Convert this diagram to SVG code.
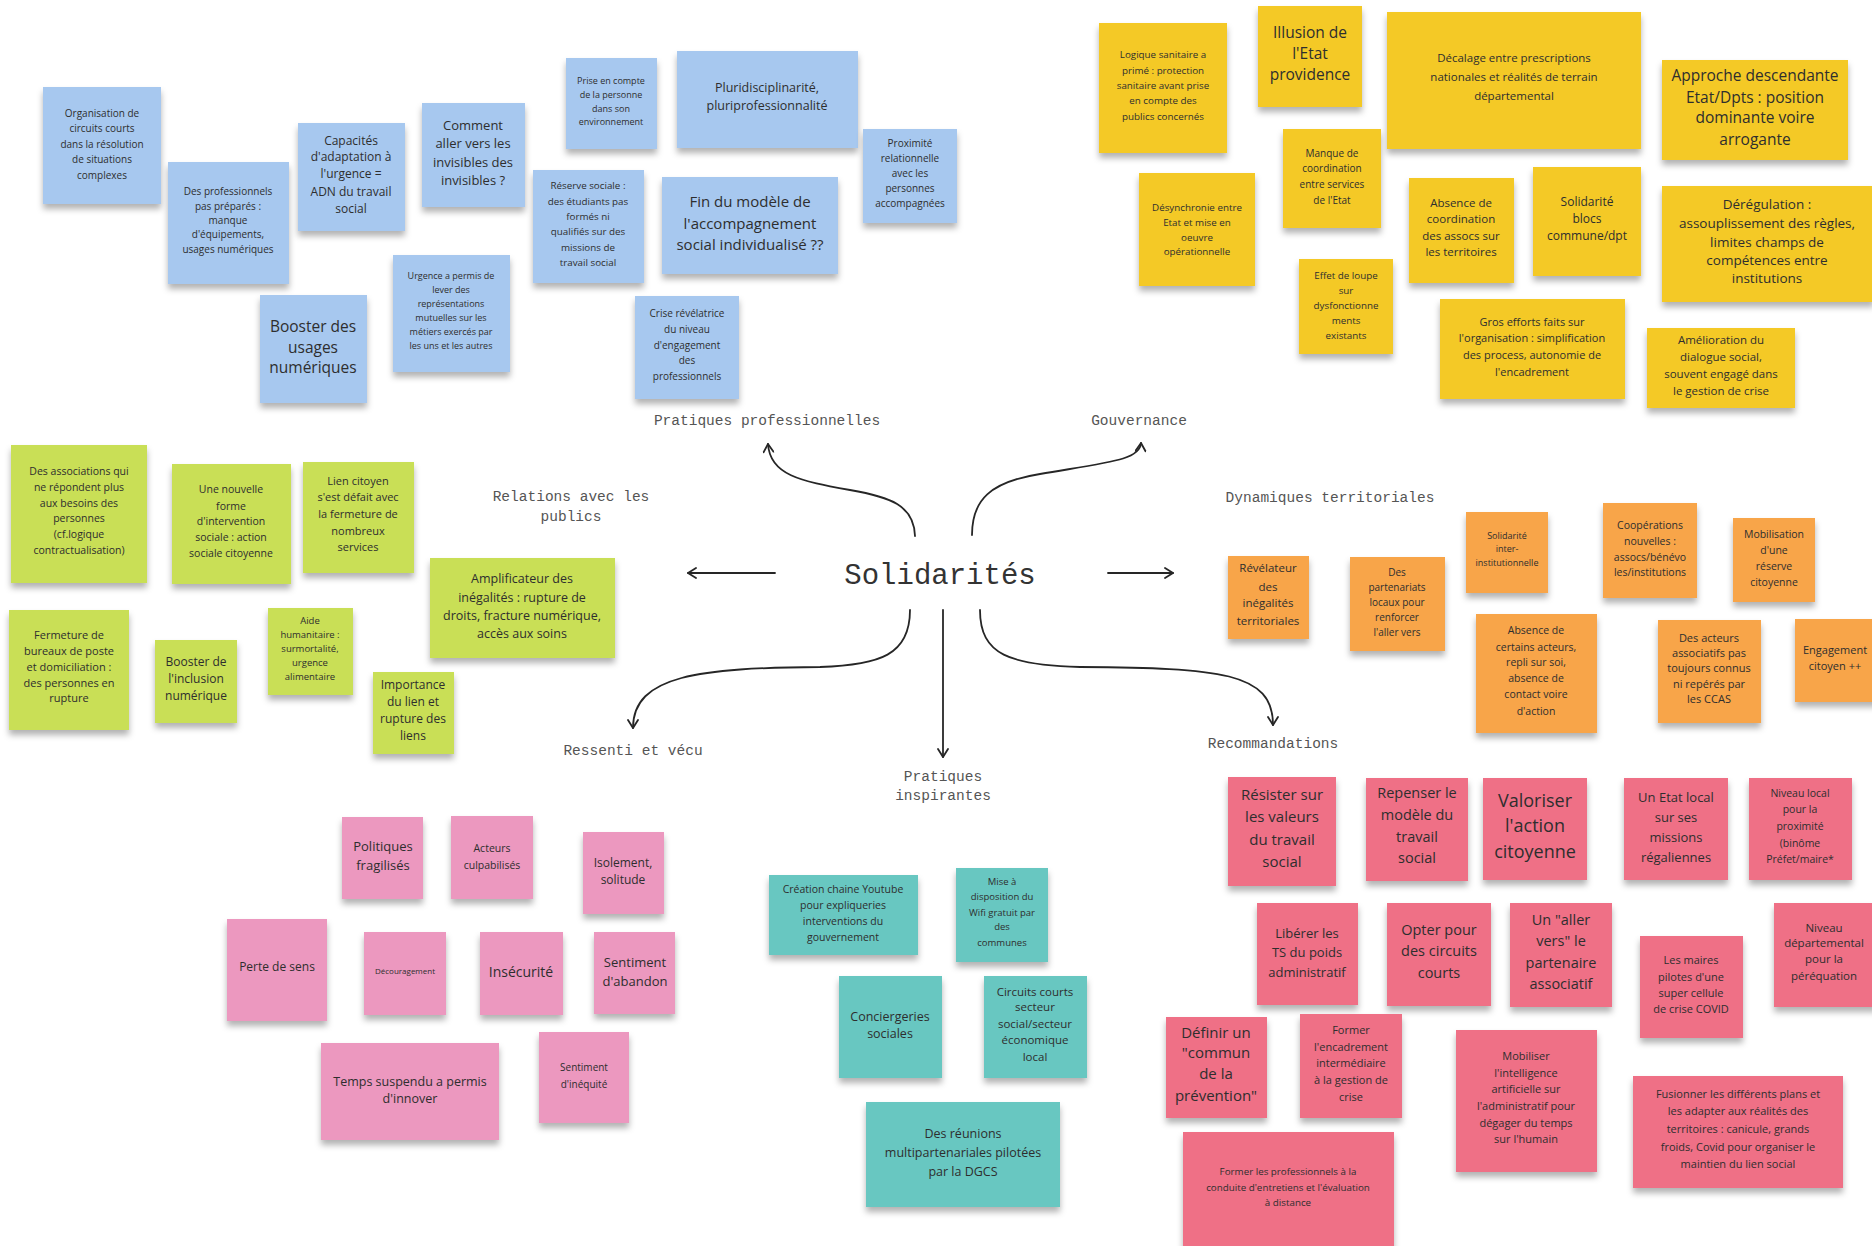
<svg xmlns="http://www.w3.org/2000/svg" width="1872" height="1246" viewBox="0 0 1872 1246">
<defs>
<style>
.n{filter:url(#sh)}
.b{fill:#a7c8ef}.y{fill:#f4c928}.g{fill:#c9df56}.o{fill:#f8a548}.p{fill:#ec98bf}.t{fill:#67c7c1}.r{fill:#ef7086}
text{font-family:"Open Sans","Noto Sans",sans-serif;fill:#2e2e2e;text-anchor:middle}
.lbl{font-family:"Liberation Mono","DejaVu Sans Mono",monospace;fill:#555;font-size:14.5px}
.title{font-family:"Liberation Mono","DejaVu Sans Mono",monospace;fill:#333;font-size:29px}
.c{fill:none;stroke:#262626;stroke-width:1.8;stroke-linecap:round}
</style>
<filter id="sh" x="-10%" y="-10%" width="120%" height="130%">
<feDropShadow dx="0" dy="5" stdDeviation="3" flood-color="#000" flood-opacity="0.3"/>
</filter>
<marker id="ah" viewBox="0 0 12 12" refX="10" refY="6" markerWidth="12" markerHeight="12" markerUnits="userSpaceOnUse" orient="auto">
<path d="M2,1 L10,6 L2,11" fill="none" stroke="#262626" stroke-width="1.8" stroke-linecap="round" stroke-linejoin="round"/>
</marker>
</defs>
<rect width="1872" height="1246" fill="#ffffff"/>

<g id="connectors">
<path class="c" marker-end="url(#ah)" d="M915,536 C914,505 890,497 850,490 C800,481 770,475 768,444"/>
<path class="c" marker-end="url(#ah)" d="M910,610 C910,655 880,665 820,667 C700,668 633,675 633,728"/>
<path class="c" marker-end="url(#ah)" d="M972,535 C972,500 990,482 1040,474 C1110,462 1140,460 1141,443"/>
<path class="c" marker-end="url(#ah)" d="M980,610 C980,655 1010,665 1080,667 C1220,668 1273,672 1273,725"/>
<path class="c" marker-end="url(#ah)" d="M775,573 L688,573"/>
<path class="c" marker-end="url(#ah)" d="M1108,573 L1173,573"/>
<path class="c" marker-end="url(#ah)" d="M943,610 L943,757"/>
</g>

<g id="center"><text class="title" x="940" y="584">Solidarités</text></g>
<g id="lbl-pratiques-pro"><text class="lbl" x="767" y="425">Pratiques professionnelles</text></g>
<g id="lbl-gouvernance"><text class="lbl" x="1139" y="425">Gouvernance</text></g>
<g id="lbl-relations"><text class="lbl" x="571" y="501"><tspan x="571" y="501">Relations avec les</tspan><tspan x="571" y="521">publics</tspan></text></g>
<g id="lbl-dynamiques"><text class="lbl" x="1330" y="502">Dynamiques territoriales</text></g>
<g id="lbl-ressenti"><text class="lbl" x="633" y="755">Ressenti et vécu</text></g>
<g id="lbl-inspirantes"><text class="lbl" x="943" y="781"><tspan x="943" y="781">Pratiques</tspan><tspan x="943" y="800">inspirantes</tspan></text></g>
<g id="lbl-recommandations"><text class="lbl" x="1273" y="748">Recommandations</text></g>

<!-- Blue: pratiques professionnelles -->
<g id="n-organisation"><rect class="n b" x="43" y="87" width="118" height="117"/><text font-size="10"><tspan x="102" y="117">Organisation de</tspan><tspan x="102" y="132">circuits courts</tspan><tspan x="102" y="148">dans la résolution</tspan><tspan x="102" y="163">de situations</tspan><tspan x="102" y="179">complexes</tspan></text></g>
<g id="n-profs"><rect class="n b" x="168" y="162" width="121" height="122"/><text font-size="10"><tspan x="228" y="195">Des professionnels</tspan><tspan x="228" y="210">pas préparés :</tspan><tspan x="228" y="224">manque</tspan><tspan x="228" y="238">d'équipements,</tspan><tspan x="228" y="253">usages numériques</tspan></text></g>
<g id="n-capacites"><rect class="n b" x="298" y="123" width="107" height="108"/><text font-size="12"><tspan x="351" y="145">Capacités</tspan><tspan x="351" y="161">d'adaptation à</tspan><tspan x="351" y="178">l'urgence =</tspan><tspan x="351" y="196">ADN du travail</tspan><tspan x="351" y="213">social</tspan></text></g>
<g id="n-comment"><rect class="n b" x="422" y="103" width="103" height="104"/><text font-size="13"><tspan x="473" y="130">Comment</tspan><tspan x="473" y="148">aller vers les</tspan><tspan x="473" y="167">invisibles des</tspan><tspan x="473" y="185">invisibles ?</tspan></text></g>
<g id="n-booster-usages"><rect class="n b" x="260" y="295" width="107" height="108"/><text font-size="15.5"><tspan x="313" y="332">Booster des</tspan><tspan x="313" y="353">usages</tspan><tspan x="313" y="373">numériques</tspan></text></g>
<g id="n-urgence"><rect class="n b" x="393" y="255" width="117" height="117"/><text font-size="9"><tspan x="451" y="279">Urgence a permis de</tspan><tspan x="451" y="293">lever des</tspan><tspan x="451" y="307">représentations</tspan><tspan x="451" y="321">mutuelles sur les</tspan><tspan x="451" y="335">métiers exercés par</tspan><tspan x="451" y="349">les uns et les autres</tspan></text></g>
<g id="n-prise"><rect class="n b" x="566" y="58" width="91" height="91"/><text font-size="9"><tspan x="611" y="84">Prise en compte</tspan><tspan x="611" y="98">de la personne</tspan><tspan x="611" y="112">dans son</tspan><tspan x="611" y="125">environnement</tspan></text></g>
<g id="n-pluri"><rect class="n b" x="677" y="51" width="181" height="97"/><text font-size="12.5"><tspan x="767" y="92">Pluridisciplinarité,</tspan><tspan x="767" y="110">pluriprofessionnalité</tspan></text></g>
<g id="n-reserve"><rect class="n b" x="533" y="170" width="111" height="113"/><text font-size="9.8"><tspan x="588" y="189">Réserve sociale :</tspan><tspan x="588" y="205">des étudiants pas</tspan><tspan x="588" y="220">formés ni</tspan><tspan x="588" y="235">qualifiés sur des</tspan><tspan x="588" y="251">missions de</tspan><tspan x="588" y="266">travail social</tspan></text></g>
<g id="n-fin"><rect class="n b" x="662" y="177" width="176" height="97"/><text font-size="15"><tspan x="750" y="207">Fin du modèle de</tspan><tspan x="750" y="229">l'accompagnement</tspan><tspan x="750" y="250">social individualisé ??</tspan></text></g>
<g id="n-proximite"><rect class="n b" x="863" y="129" width="94" height="94"/><text font-size="10"><tspan x="910" y="147">Proximité</tspan><tspan x="910" y="162">relationnelle</tspan><tspan x="910" y="177">avec les</tspan><tspan x="910" y="192">personnes</tspan><tspan x="910" y="207">accompagnées</tspan></text></g>
<g id="n-crise"><rect class="n b" x="635" y="296" width="104" height="103"/><text font-size="10"><tspan x="687" y="317">Crise révélatrice</tspan><tspan x="687" y="333">du niveau</tspan><tspan x="687" y="349">d'engagement</tspan><tspan x="687" y="364">des</tspan><tspan x="687" y="380">professionnels</tspan></text></g>

<!-- Yellow: gouvernance -->
<g id="n-logique"><rect class="n y" x="1099" y="23" width="128" height="130"/><text font-size="9.8"><tspan x="1163" y="58">Logique sanitaire a</tspan><tspan x="1163" y="74">primé : protection</tspan><tspan x="1163" y="89">sanitaire avant prise</tspan><tspan x="1163" y="104">en compte des</tspan><tspan x="1163" y="120">publics concernés</tspan></text></g>
<g id="n-illusion"><rect class="n y" x="1258" y="6" width="104" height="101"/><text font-size="15.5"><tspan x="1310" y="38">Illusion de</tspan><tspan x="1310" y="59">l'Etat</tspan><tspan x="1310" y="80">providence</tspan></text></g>
<g id="n-desync"><rect class="n y" x="1139" y="173" width="116" height="113"/><text font-size="9.8"><tspan x="1197" y="211">Désynchronie entre</tspan><tspan x="1197" y="226">Etat et mise en</tspan><tspan x="1197" y="241">oeuvre</tspan><tspan x="1197" y="255">opérationnelle</tspan></text></g>
<g id="n-manque"><rect class="n y" x="1283" y="129" width="98" height="99"/><text font-size="10"><tspan x="1332" y="157">Manque de</tspan><tspan x="1332" y="172">coordination</tspan><tspan x="1332" y="188">entre services</tspan><tspan x="1332" y="204">de l'Etat</tspan></text></g>
<g id="n-effet"><rect class="n y" x="1299" y="259" width="94" height="95"/><text font-size="9.8"><tspan x="1346" y="279">Effet de loupe</tspan><tspan x="1346" y="294">sur</tspan><tspan x="1346" y="309">dysfonctionne</tspan><tspan x="1346" y="324">ments</tspan><tspan x="1346" y="339">existants</tspan></text></g>
<g id="n-decalage"><rect class="n y" x="1387" y="12" width="254" height="137"/><text font-size="11.5"><tspan x="1514" y="62">Décalage entre prescriptions</tspan><tspan x="1514" y="81">nationales et réalités de terrain</tspan><tspan x="1514" y="100">départemental</tspan></text></g>
<g id="n-approche"><rect class="n y" x="1662" y="60" width="186" height="100"/><text font-size="15.5"><tspan x="1755" y="81">Approche descendante</tspan><tspan x="1755" y="103">Etat/Dpts : position</tspan><tspan x="1755" y="123">dominante voire</tspan><tspan x="1755" y="145">arrogante</tspan></text></g>
<g id="n-absence-coord"><rect class="n y" x="1409" y="178" width="105" height="105"/><text font-size="11.5"><tspan x="1461" y="207">Absence de</tspan><tspan x="1461" y="223">coordination</tspan><tspan x="1461" y="240">des assocs sur</tspan><tspan x="1461" y="256">les territoires</tspan></text></g>
<g id="n-solidarite-blocs"><rect class="n y" x="1533" y="167" width="108" height="109"/><text font-size="12"><tspan x="1587" y="206">Solidarité</tspan><tspan x="1587" y="223">blocs</tspan><tspan x="1587" y="240">commune/dpt</tspan></text></g>
<g id="n-deregulation"><rect class="n y" x="1662" y="186" width="212" height="116"/><text font-size="13.5"><tspan x="1767" y="209">Dérégulation :</tspan><tspan x="1767" y="228">assouplissement des règles,</tspan><tspan x="1767" y="247">limites champs de</tspan><tspan x="1767" y="265">compétences entre</tspan><tspan x="1767" y="283">institutions</tspan></text></g>
<g id="n-gros"><rect class="n y" x="1440" y="299" width="185" height="100"/><text font-size="11"><tspan x="1532" y="326">Gros efforts faits sur</tspan><tspan x="1532" y="342">l'organisation : simplification</tspan><tspan x="1532" y="359">des process, autonomie de</tspan><tspan x="1532" y="376">l'encadrement</tspan></text></g>
<g id="n-amelioration"><rect class="n y" x="1647" y="328" width="148" height="80"/><text font-size="11.5"><tspan x="1721" y="344">Amélioration du</tspan><tspan x="1721" y="361">dialogue social,</tspan><tspan x="1721" y="378">souvent engagé dans</tspan><tspan x="1721" y="395">le gestion de crise</tspan></text></g>

<!-- Green: relations avec les publics -->
<g id="n-associations"><rect class="n g" x="11" y="445" width="136" height="138"/><text font-size="10.5"><tspan x="79" y="475">Des associations qui</tspan><tspan x="79" y="491">ne répondent plus</tspan><tspan x="79" y="507">aux besoins des</tspan><tspan x="79" y="522">personnes</tspan><tspan x="79" y="538">(cf.logique</tspan><tspan x="79" y="554">contractualisation)</tspan></text></g>
<g id="n-nouvelle"><rect class="n g" x="172" y="464" width="119" height="120"/><text font-size="10.5"><tspan x="231" y="493">Une nouvelle</tspan><tspan x="231" y="510">forme</tspan><tspan x="231" y="525">d'intervention</tspan><tspan x="231" y="541">sociale : action</tspan><tspan x="231" y="557">sociale citoyenne</tspan></text></g>
<g id="n-lien"><rect class="n g" x="303" y="462" width="111" height="111"/><text font-size="11"><tspan x="358" y="485">Lien citoyen</tspan><tspan x="358" y="501">s'est défait avec</tspan><tspan x="358" y="518">la fermeture de</tspan><tspan x="358" y="535">nombreux</tspan><tspan x="358" y="551">services</tspan></text></g>
<g id="n-amplificateur"><rect class="n g" x="430" y="558" width="185" height="100"/><text font-size="12.5"><tspan x="522" y="583">Amplificateur des</tspan><tspan x="522" y="602">inégalités : rupture de</tspan><tspan x="522" y="620">droits, fracture numérique,</tspan><tspan x="522" y="638">accès aux soins</tspan></text></g>
<g id="n-fermeture"><rect class="n g" x="9" y="610" width="120" height="120"/><text font-size="11"><tspan x="69" y="639">Fermeture de</tspan><tspan x="69" y="655">bureaux de poste</tspan><tspan x="69" y="671">et domiciliation :</tspan><tspan x="69" y="687">des personnes en</tspan><tspan x="69" y="702">rupture</tspan></text></g>
<g id="n-booster-inclusion"><rect class="n g" x="155" y="640" width="82" height="83"/><text font-size="12"><tspan x="196" y="666">Booster de</tspan><tspan x="196" y="683">l'inclusion</tspan><tspan x="196" y="700">numérique</tspan></text></g>
<g id="n-aide"><rect class="n g" x="268" y="608" width="85" height="87"/><text font-size="9.5"><tspan x="310" y="624">Aide</tspan><tspan x="310" y="638">humanitaire :</tspan><tspan x="310" y="652">surmortalité,</tspan><tspan x="310" y="666">urgence</tspan><tspan x="310" y="680">alimentaire</tspan></text></g>
<g id="n-importance"><rect class="n g" x="373" y="672" width="81" height="82"/><text font-size="12"><tspan x="413" y="689">Importance</tspan><tspan x="413" y="706">du lien et</tspan><tspan x="413" y="723">rupture des</tspan><tspan x="413" y="740">liens</tspan></text></g>

<!-- Orange: dynamiques territoriales -->
<g id="n-revelateur"><rect class="n o" x="1228" y="556" width="81" height="83"/><text font-size="11.5"><tspan x="1268" y="572">Révélateur</tspan><tspan x="1268" y="591">des</tspan><tspan x="1268" y="607">inégalités</tspan><tspan x="1268" y="625">territoriales</tspan></text></g>
<g id="n-partenariats"><rect class="n o" x="1350" y="557" width="95" height="94"/><text font-size="10"><tspan x="1397" y="576">Des</tspan><tspan x="1397" y="591">partenariats</tspan><tspan x="1397" y="606">locaux pour</tspan><tspan x="1397" y="621">renforcer</tspan><tspan x="1397" y="636">l'aller vers</tspan></text></g>
<g id="n-solidarite-inter"><rect class="n o" x="1466" y="512" width="82" height="81"/><text font-size="9"><tspan x="1507" y="539">Solidarité</tspan><tspan x="1507" y="552">inter-</tspan><tspan x="1507" y="566">institutionnelle</tspan></text></g>
<g id="n-cooperations"><rect class="n o" x="1603" y="503" width="94" height="95"/><text font-size="10.5"><tspan x="1650" y="529">Coopérations</tspan><tspan x="1650" y="545">nouvelles :</tspan><tspan x="1650" y="561">assocs/bénévo</tspan><tspan x="1650" y="576">les/institutions</tspan></text></g>
<g id="n-mobilisation"><rect class="n o" x="1733" y="518" width="82" height="84"/><text font-size="10.5"><tspan x="1774" y="538">Mobilisation</tspan><tspan x="1774" y="554">d'une</tspan><tspan x="1774" y="570">réserve</tspan><tspan x="1774" y="586">citoyenne</tspan></text></g>
<g id="n-absence-acteurs"><rect class="n o" x="1476" y="614" width="121" height="119"/><text font-size="10.5"><tspan x="1536" y="634">Absence de</tspan><tspan x="1536" y="651">certains acteurs,</tspan><tspan x="1536" y="666">repli sur soi,</tspan><tspan x="1536" y="682">absence de</tspan><tspan x="1536" y="698">contact voire</tspan><tspan x="1536" y="715">d'action</tspan></text></g>
<g id="n-des-acteurs"><rect class="n o" x="1658" y="620" width="103" height="103"/><text font-size="11"><tspan x="1709" y="642">Des acteurs</tspan><tspan x="1709" y="657">associatifs pas</tspan><tspan x="1709" y="672">toujours connus</tspan><tspan x="1709" y="688">ni repérés par</tspan><tspan x="1709" y="703">les CCAS</tspan></text></g>
<g id="n-engagement"><rect class="n o" x="1795" y="619" width="90" height="83"/><text font-size="11"><tspan x="1835" y="654">Engagement</tspan><tspan x="1835" y="670">citoyen ++</tspan></text></g>

<!-- Pink: ressenti et vécu -->
<g id="n-politiques"><rect class="n p" x="342" y="817" width="81" height="82"/><text font-size="13"><tspan x="383" y="851">Politiques</tspan><tspan x="383" y="870">fragilisés</tspan></text></g>
<g id="n-acteurs-culp"><rect class="n p" x="451" y="816" width="82" height="83"/><text font-size="10.5"><tspan x="492" y="852">Acteurs</tspan><tspan x="492" y="869">culpabilisés</tspan></text></g>
<g id="n-isolement"><rect class="n p" x="583" y="832" width="81" height="82"/><text font-size="12"><tspan x="623" y="867">Isolement,</tspan><tspan x="623" y="884">solitude</tspan></text></g>
<g id="n-perte"><rect class="n p" x="227" y="919" width="100" height="102"/><text font-size="12" x="277" y="971">Perte de sens</text></g>
<g id="n-decouragement"><rect class="n p" x="364" y="932" width="82" height="83"/><text font-size="8" x="405" y="974">Découragement</text></g>
<g id="n-insecurite"><rect class="n p" x="480" y="932" width="83" height="83"/><text font-size="14" x="521" y="977">Insécurité</text></g>
<g id="n-abandon"><rect class="n p" x="594" y="932" width="81" height="82"/><text font-size="13"><tspan x="635" y="967">Sentiment</tspan><tspan x="635" y="986">d'abandon</tspan></text></g>
<g id="n-temps"><rect class="n p" x="321" y="1043" width="178" height="97"/><text font-size="12.5"><tspan x="410" y="1086">Temps suspendu a permis</tspan><tspan x="410" y="1103">d'innover</tspan></text></g>
<g id="n-inequite"><rect class="n p" x="539" y="1032" width="90" height="91"/><text font-size="10"><tspan x="584" y="1071">Sentiment</tspan><tspan x="584" y="1088">d'inéquité</tspan></text></g>

<!-- Teal: pratiques inspirantes -->
<g id="n-youtube"><rect class="n t" x="769" y="875" width="149" height="80"/><text font-size="10.5"><tspan x="843" y="893">Création chaine Youtube</tspan><tspan x="843" y="909">pour expliqueries</tspan><tspan x="843" y="925">interventions du</tspan><tspan x="843" y="941">gouvernement</tspan></text></g>
<g id="n-wifi"><rect class="n t" x="956" y="868" width="92" height="94"/><text font-size="9.5"><tspan x="1002" y="885">Mise à</tspan><tspan x="1002" y="900">disposition du</tspan><tspan x="1002" y="916">Wifi gratuit par</tspan><tspan x="1002" y="930">des</tspan><tspan x="1002" y="946">communes</tspan></text></g>
<g id="n-conciergeries"><rect class="n t" x="839" y="976" width="103" height="102"/><text font-size="12.5"><tspan x="890" y="1021">Conciergeries</tspan><tspan x="890" y="1038">sociales</tspan></text></g>
<g id="n-circuits"><rect class="n t" x="984" y="976" width="103" height="102"/><text font-size="11.5"><tspan x="1035" y="996">Circuits courts</tspan><tspan x="1035" y="1011">secteur</tspan><tspan x="1035" y="1028">social/secteur</tspan><tspan x="1035" y="1044">économique</tspan><tspan x="1035" y="1061">local</tspan></text></g>
<g id="n-reunions"><rect class="n t" x="866" y="1102" width="194" height="105"/><text font-size="12.5"><tspan x="963" y="1138">Des réunions</tspan><tspan x="963" y="1157">multipartenariales pilotées</tspan><tspan x="963" y="1176">par la DGCS</tspan></text></g>

<!-- Red: recommandations -->
<g id="n-resister"><rect class="n r" x="1228" y="777" width="108" height="109"/><text font-size="15"><tspan x="1282" y="800">Résister sur</tspan><tspan x="1282" y="822">les valeurs</tspan><tspan x="1282" y="845">du travail</tspan><tspan x="1282" y="867">social</tspan></text></g>
<g id="n-repenser"><rect class="n r" x="1366" y="778" width="102" height="103"/><text font-size="14.5"><tspan x="1417" y="798">Repenser le</tspan><tspan x="1417" y="820">modèle du</tspan><tspan x="1417" y="842">travail</tspan><tspan x="1417" y="863">social</tspan></text></g>
<g id="n-valoriser"><rect class="n r" x="1483" y="778" width="104" height="102"/><text font-size="18"><tspan x="1535" y="807">Valoriser</tspan><tspan x="1535" y="832">l'action</tspan><tspan x="1535" y="858">citoyenne</tspan></text></g>
<g id="n-etat-local"><rect class="n r" x="1624" y="778" width="104" height="102"/><text font-size="13"><tspan x="1676" y="802">Un Etat local</tspan><tspan x="1676" y="822">sur ses</tspan><tspan x="1676" y="842">missions</tspan><tspan x="1676" y="862">régaliennes</tspan></text></g>
<g id="n-niveau-local"><rect class="n r" x="1749" y="778" width="103" height="102"/><text font-size="10.5"><tspan x="1800" y="797">Niveau local</tspan><tspan x="1800" y="813">pour la</tspan><tspan x="1800" y="830">proximité</tspan><tspan x="1800" y="847">(binôme</tspan><tspan x="1800" y="863">Préfet/maire*</tspan></text></g>
<g id="n-liberer"><rect class="n r" x="1257" y="903" width="101" height="102"/><text font-size="13"><tspan x="1307" y="938">Libérer les</tspan><tspan x="1307" y="957">TS du poids</tspan><tspan x="1307" y="977">administratif</tspan></text></g>
<g id="n-opter"><rect class="n r" x="1387" y="903" width="104" height="103"/><text font-size="14.5"><tspan x="1439" y="935">Opter pour</tspan><tspan x="1439" y="956">des circuits</tspan><tspan x="1439" y="978">courts</tspan></text></g>
<g id="n-aller-vers"><rect class="n r" x="1510" y="903" width="102" height="104"/><text font-size="14.5"><tspan x="1561" y="925">Un "aller</tspan><tspan x="1561" y="946">vers" le</tspan><tspan x="1561" y="968">partenaire</tspan><tspan x="1561" y="989">associatif</tspan></text></g>
<g id="n-maires"><rect class="n r" x="1640" y="936" width="103" height="102"/><text font-size="11"><tspan x="1691" y="964">Les maires</tspan><tspan x="1691" y="981">pilotes d'une</tspan><tspan x="1691" y="997">super cellule</tspan><tspan x="1691" y="1013">de crise COVID</tspan></text></g>
<g id="n-niveau-dep"><rect class="n r" x="1774" y="903" width="104" height="104"/><text font-size="11.5"><tspan x="1824" y="932">Niveau</tspan><tspan x="1824" y="947">départemental</tspan><tspan x="1824" y="963">pour la</tspan><tspan x="1824" y="980">péréquation</tspan></text></g>
<g id="n-definir"><rect class="n r" x="1166" y="1017" width="101" height="101"/><text font-size="15"><tspan x="1216" y="1038">Définir un</tspan><tspan x="1216" y="1058">"commun</tspan><tspan x="1216" y="1079">de la</tspan><tspan x="1216" y="1101">prévention"</tspan></text></g>
<g id="n-former-encadrement"><rect class="n r" x="1300" y="1014" width="102" height="104"/><text font-size="11"><tspan x="1351" y="1034">Former</tspan><tspan x="1351" y="1051">l'encadrement</tspan><tspan x="1351" y="1067">intermédiaire</tspan><tspan x="1351" y="1084">à la gestion de</tspan><tspan x="1351" y="1101">crise</tspan></text></g>
<g id="n-mobiliser"><rect class="n r" x="1456" y="1030" width="141" height="142"/><text font-size="11"><tspan x="1526" y="1060">Mobiliser</tspan><tspan x="1526" y="1077">l'intelligence</tspan><tspan x="1526" y="1093">artificielle sur</tspan><tspan x="1526" y="1110">l'administratif pour</tspan><tspan x="1526" y="1127">dégager du temps</tspan><tspan x="1526" y="1143">sur l'humain</tspan></text></g>
<g id="n-fusionner"><rect class="n r" x="1633" y="1076" width="210" height="112"/><text font-size="11"><tspan x="1738" y="1098">Fusionner les différents plans et</tspan><tspan x="1738" y="1115">les adapter aux réalités des</tspan><tspan x="1738" y="1133">territoires : canicule, grands</tspan><tspan x="1738" y="1151">froids, Covid pour organiser le</tspan><tspan x="1738" y="1168">maintien du lien social</tspan></text></g>
<g id="n-former-pros"><rect class="n r" x="1183" y="1132" width="211" height="125"/><text font-size="9.8"><tspan x="1288" y="1175">Former les professionnels à la</tspan><tspan x="1288" y="1191">conduite d'entretiens et l'évaluation</tspan><tspan x="1288" y="1206">à distance</tspan></text></g>
</svg>
